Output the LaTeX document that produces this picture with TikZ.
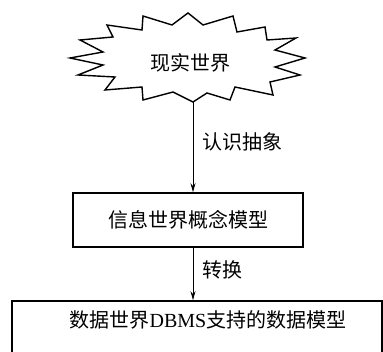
\documentclass[tikz,border=0pt]{standalone}
\usepackage{fontspec}
\setmainfont{Liberation Serif}
\newfontfamily\cjk{Noto Sans CJK SC}
\usetikzlibrary{arrows.meta}
\begin{document}
\begin{tikzpicture}[x=1pt,y=-1pt,
  boxst/.style={draw, line width=1.6pt, inner sep=0pt},
  lbl/.style={font={\cjk\fontsize{20}{24}\selectfont}, inner sep=0pt},
  conn/.style={line width=0.9pt, -{Stealth[length=9pt,width=5pt]}},
  burst/.style={line width=1.4pt, line join=miter}]
\clip (0,0) rectangle (383,352);
\fill[white] (0,0) rectangle (383,352);
% starburst
\draw[burst] (188,13) -- (203,25) -- (233,16) -- (237,32) -- (265,27) -- (267,40)
  -- (296,38) -- (275,50) -- (305,58) -- (275,67) -- (300,75) -- (270,82)
  -- (273,95) -- (235,87) -- (230,100) -- (207,93) -- (193,102) -- (173,92)
  -- (143,100) -- (142,87) -- (105,90) -- (115,77) -- (78,75) -- (103,65)
  -- (70,58) -- (103,52) -- (80,40) -- (113,37) -- (107,25) -- (142,30)
  -- (143,16) -- (172,25) -- cycle;
\coordinate (bb) at (193,102);
\coordinate (ax) at (193,0);
\node[lbl] (world) at (190,63) {现实世界};
% boxes
\node[boxst, lbl, minimum width=230pt, minimum height=54pt] (mbox) at (188,220) {信息世界概念模型};
\node[boxst, minimum width=370pt, minimum height=60pt] (dbox) at (197,331) {};
\node[lbl] (dtext) at (208,320) {数据世界{\rmfamily DBMS}支持的数据模型};
% connectors
\draw[conn] (bb) -- (bb |- mbox.north);
\draw[conn] (ax |- mbox.south) -- (ax |- dbox.north);
\node[lbl, anchor=west] (l1) at (202,142) {认识抽象};
\node[lbl, anchor=west] (l2) at (202,270) {转换};
\end{tikzpicture}
\end{document}
